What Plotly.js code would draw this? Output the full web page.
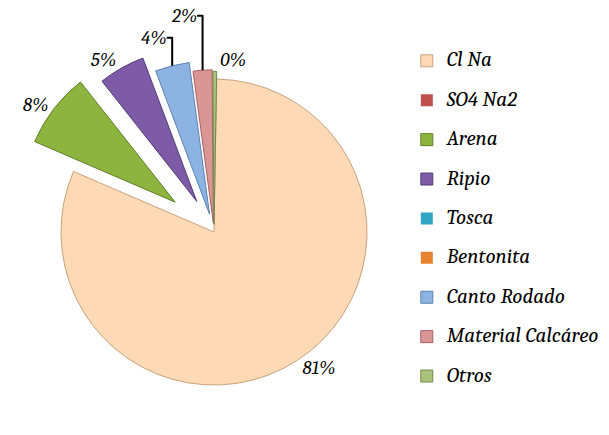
<!DOCTYPE html>
<html>
<head>
<meta charset="utf-8">
<script src="https://cdn.plot.ly/plotly-3.0.1.min.js"></script>
<style>
  html, body { margin: 0; padding: 0; background: #fff; }
  #chart { width: 609px; height: 435px; }
</style>
</head>
<body>
<div id="chart"></div>
<script>
// composition (%), clockwise from 12 o'clock
const labels = ['Cl Na', 'SO4 Na2', 'Arena', 'Ripio', 'Tosca', 'Bentonita', 'Canto Rodado', 'Material Calcáreo', 'Otros'];
const values = [81.2, 0, 7.9, 4.9, 0, 0, 3.6, 2.0, 0.4];
const colors = ['#FDD9B5', '#C0504D', '#8DB43E', '#7D5BA6', '#31A5C4', '#E8822E', '#8DB3E2', '#D99694', '#A8C27A'];
const edges = ['#C9A27E', '#8E3431', '#5F7E25', '#553C78', '#1F7A93', '#A85A1C', '#5D82B0', '#A5625F', '#728A4C'];
// how far each slice sits out from the centre (fraction of radius)
const explode = [0, 0, 0.32, 0.23, 0, 0, 0.12, 0.06, 0.05];

const serif = 'Cambria, "DejaVu Serif", serif';

// legend rows: big text on the first line, blank second line -> row spacing like the original
const legendLabels = labels.map(l => '<span style="font-size:21px">' + l + '</span><br> ');

var trace1 = {
    type: 'pie',
    labels: legendLabels,
    values: values,
    sort: false,
    direction: 'clockwise',
    rotation: 1,
    pull: explode,
    textposition: 'outside',
    texttemplate: values.map(v => v > 0 ? '%{percent:.0%}' : ''),
    outsidetextfont: {family: serif, size: 19, color: '#000', style: 'italic'},
    marker: {
        colors: colors,
        line: {color: edges, width: values.map(v => v > 0 ? 1 : 0)}
    },
    domain: {x: [0.0197, 0.6831], y: [0, 0.9333]},
    hoverinfo: 'percent'
};

var layout = {
    width: 609,
    height: 435,
    margin: {l: 0, r: 0, t: 0, b: 0},
    paper_bgcolor: '#fff',
    showlegend: true,
    legend: {
        x: 0.668,
        xanchor: 'left',
        y: 0.896,
        yanchor: 'top',
        valign: 'top',
        font: {family: serif, size: 14, color: '#000', style: 'italic'},
        bgcolor: 'rgba(0,0,0,0)'
    }
};

Plotly.newPlot('chart', [trace1], layout, {displayModeBar: false});
</script>
</body>
</html>
